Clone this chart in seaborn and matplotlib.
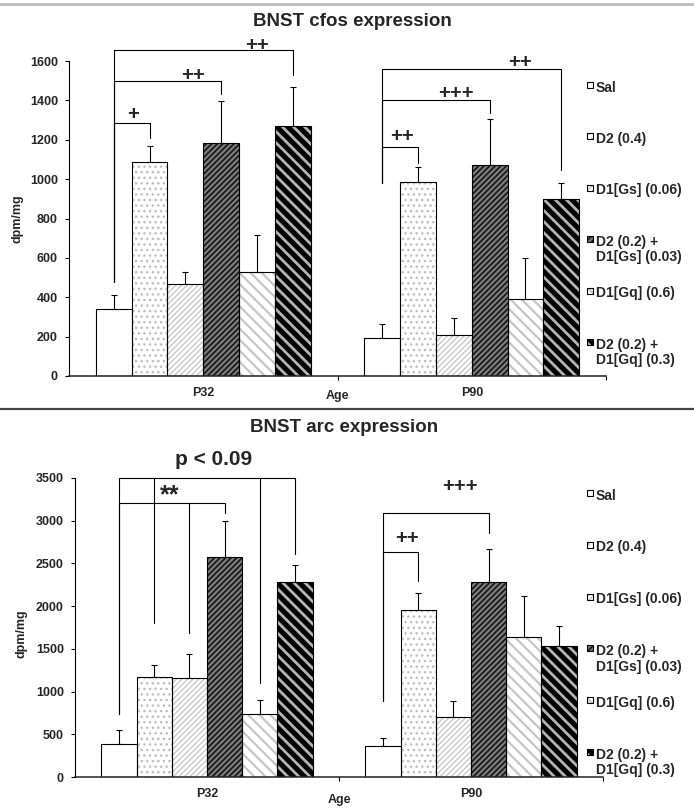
import numpy as np
import pandas as pd
import matplotlib
matplotlib.use("Agg")
import matplotlib.pyplot as plt
import seaborn as sns
from matplotlib.patches import Rectangle
from matplotlib.lines import Line2D

# ---------------- data ----------------
ages = ["P32", "P90"]
groups = ["Sal", "D2 (0.4)", "D1[Gs] (0.06)", "D2 (0.2) +\nD1[Gs] (0.03)",
          "D1[Gq] (0.6)", "D2 (0.2) +\nD1[Gq] (0.3)"]

cfos_p32 = [339, 1089, 467, 1182, 527, 1272]
cfos_p32_err = [72, 81, 60, 213, 189, 198]
cfos_p90 = [195, 987, 210, 1070, 393, 899]
cfos_p90_err = [69, 76, 83, 237, 205, 83]
cfos_yticks = [0, 200, 400, 600, 800, 1000, 1200, 1400, 1600]

arc_p32 = [390, 1170, 1160, 2580, 735, 2280]
arc_p32_err = [158, 140, 275, 420, 172, 203]
arc_p90 = [360, 1955, 704, 2280, 1643, 1533]
arc_p90_err = [98, 204, 184, 391, 481, 235]
arc_yticks = [0, 500, 1000, 1500, 2000, 2500, 3000, 3500]

# brackets: (age, bar indices, leg bottoms, bracket level, label, label position along bracket, label height)
cfos_brackets = [
    ("P32", [0, 1], [479, 1207], 1287, "+", 0.53, 1326),
    ("P32", [0, 3], [479, 1431], 1500, "++", 0.74, 1524),
    ("P32", [0, 5], [479, 1529], 1656, "++", 0.80, 1678),
    ("P90", [0, 1], [982, 1080], 1165, "++", 0.55, 1216),
    ("P90", [0, 3], [982, 1334], 1402, "+++", 0.69, 1436),
    ("P90", [0, 5], [982, 1046], 1558, "++", 0.77, 1592),
]
arc_brackets = [
    ("P32", [0, 1, 4, 5], [743, 1807, 1095, 2612], 3500, "p < 0.09", 0.54, 3715),
    ("P32", [0, 2, 3], [743, 1690, 3090], 3207, "**", 0.48, 3300),
    ("P90", [0, 1], [888, 2296], 2632, "++", 0.69, 2796),
    ("P90", [0, 3], [888, 2855], 3090, "+++", 0.73, 3402),
]

# ---------------- styles ----------------
faces = ["white", "white", "white", "#7a7a7a", "white", "black"]
hatches = [None, "...", "//////", "//////", "\\\\\\", "\\\\\\"]
hatch_colors = ["black", "#bdbdbd", "#c4c4c4", "#101010", "#c6c6c6", "#b4b4b4"]
hatch_lws = [0.5, 1.0, 0.9, 1.1, 1.6, 2.0]

sns.set_style("ticks")
plt.rcParams["font.family"] = ["Liberation Sans", "DejaVu Sans"]
plt.rcParams["font.weight"] = "bold"
plt.rcParams["axes.labelweight"] = "bold"

W, H = 694, 811
fig = plt.figure(figsize=(W / 100, H / 100), dpi=100)
fig.patch.set_facecolor("white")


def styled_rect(target, x, y, w, h, i, transform=None, zorder=3):
    kw = {}
    if transform is not None:
        kw["transform"] = transform
    r = Rectangle((x, y), w, h, facecolor=faces[i], edgecolor=hatch_colors[i],
                  linewidth=0, hatch=hatches[i], zorder=zorder, **kw)
    if hasattr(r, "set_hatch_linewidth"):
        r.set_hatch_linewidth(hatch_lws[i])
    o = Rectangle((x, y), w, h, fill=False, edgecolor="black", linewidth=0.8,
                  zorder=zorder + 0.1, **kw)
    if transform is not None:
        target.add_artist(r)
        target.add_artist(o)
    else:
        target.add_patch(r)
        target.add_patch(o)


def draw_panel(ax, p32, p32e, p90, p90e, ymax, yticks, brackets):
    df = pd.DataFrame({"Age": np.repeat(ages, len(groups)),
                       "Group": groups * 2,
                       "Value": p32 + p90})
    sns.barplot(data=df, x="Age", y="Value", hue="Group", hue_order=groups,
                order=ages, palette=["white"] * len(groups), errorbar=None,
                width=0.8, legend=False, saturation=1, ax=ax)
    errs = {"P32": p32e, "P90": p90e}
    centers = {}
    ex, ey, ee = [], [], []
    for gi, cont in enumerate(ax.containers):
        for ai, bar in enumerate(cont):
            x0, w, h = bar.get_x(), bar.get_width(), bar.get_height()
            bar.set_visible(False)
            styled_rect(ax, x0, 0, w, h, gi, zorder=2)
            age = ages[ai]
            centers[(age, gi)] = x0 + w / 2
            ex.append(x0 + w / 2)
            ey.append(h)
            ee.append(errs[age][gi])
    ax.errorbar(ex, ey, yerr=[np.zeros(len(ee)), ee], fmt="none", ecolor="black",
                elinewidth=0.8, capsize=2.3, capthick=0.8, zorder=4)
    for age, idxs, bottoms, ytop, label, frac, ly in brackets:
        xs = [centers[(age, i)] for i in idxs]
        ax.plot([xs[0], xs[-1]], [ytop, ytop], color="black", lw=0.8, clip_on=False, zorder=5)
        for x, b in zip(xs, bottoms):
            ax.plot([x, x], [b, ytop], color="black", lw=0.8, clip_on=False, zorder=5)
        lx = xs[0] + frac * (xs[-1] - xs[0])
        fs = 15 if label.startswith("p") else (18 if label.startswith("*") else 14.5)
        ax.text(lx, ly, label, ha="center", va="center", fontsize=fs,
                fontweight="bold", clip_on=False, zorder=6)

    ax.set_xlim(-0.5, 1.5)
    ax.set_ylim(0, ymax)
    ax.set_yticks(yticks)
    ax.set_ylabel("dpm/mg", fontsize=9)
    ax.set_xlabel("Age", fontsize=9)
    ax.tick_params(axis="y", direction="out", length=3, width=0.8, pad=5,
                   labelsize=9, left=True, color="black")
    ax.tick_params(axis="x", which="major", length=0, pad=8, labelsize=9)
    ax.set_xticks([0.5, 1.5], minor=True)
    ax.tick_params(axis="x", which="minor", length=3, width=0.8, direction="out",
                   bottom=True, color="black")
    for s in ["top", "right"]:
        ax.spines[s].set_visible(False)
    ax.spines["left"].set_linewidth(0.8)
    ax.spines["bottom"].set_linewidth(1.1)
    ax.spines["left"].set_color("black")
    ax.spines["bottom"].set_color("#222222")
    ax.set_facecolor("white")


def draw_legend(y0_px, step_px):
    for i, g in enumerate(groups):
        base = y0_px + i * step_px
        styled_rect(fig, 587 / W, 1 - (base - 3) / H, 6 / W, 6 / H, i,
                    transform=fig.transFigure, zorder=3)
        fig.text(596 / W, 1 - (base - 10.5) / H, g, fontsize=10, fontweight="bold",
                 ha="left", va="top", linespacing=1.15)


ax1 = fig.add_axes([69 / W, 1 - 376 / H, (606 - 69) / W, (376 - 61) / H])
draw_panel(ax1, cfos_p32, cfos_p32_err, cfos_p90, cfos_p90_err, 1600, cfos_yticks, cfos_brackets)
ax1.yaxis.set_label_coords(-0.085, 0.5)
ax1.xaxis.set_label_coords(0.5, -0.045)

ax2 = fig.add_axes([75 / W, 1 - 777 / H, (603 - 75) / W, (777 - 478) / H])
draw_panel(ax2, arc_p32, arc_p32_err, arc_p90, arc_p90_err, 3500, arc_yticks, arc_brackets)
ax2.yaxis.set_label_coords(-0.09, 0.48)
ax2.xaxis.set_label_coords(0.5, -0.057)

fig.text(352 / W, 1 - 21 / H, "BNST cfos expression", fontsize=13.5,
         fontweight="bold", ha="center", va="center")
fig.text(344 / W, 1 - 428 / H, "BNST arc expression", fontsize=13.5,
         fontweight="bold", ha="center", va="center")

draw_legend(91, 51.4)
draw_legend(499, 51.8)

fig.add_artist(Line2D([0, 1], [1 - 4 / H, 1 - 4 / H], transform=fig.transFigure,
                      color="#bbbbbb", lw=2))
fig.add_artist(Line2D([0, 1], [1 - 409 / H, 1 - 409 / H], transform=fig.transFigure,
                      color="#444444", lw=1.6))

fig.savefig("out.png", dpi=100, facecolor="white")
